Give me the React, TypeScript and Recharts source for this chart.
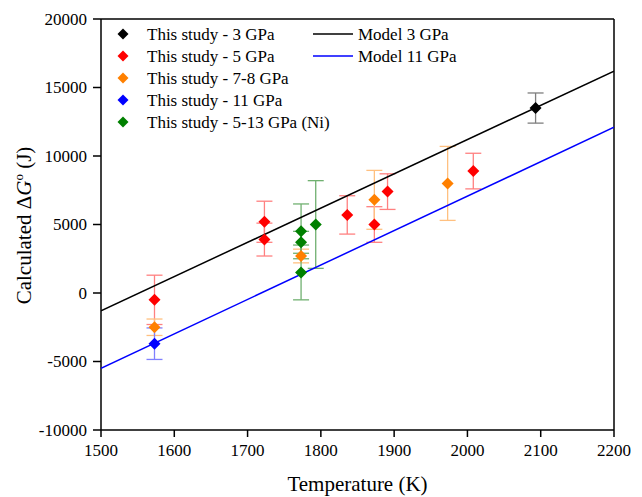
import { ScatterChart, Scatter, XAxis, YAxis, ErrorBar, ReferenceLine, Legend } from "recharts";

const FONT = "'Liberation Serif', 'Times New Roman', serif";

const xTicks = [1500, 1600, 1700, 1800, 1900, 2000, 2100, 2200];
const yTicks = [-10000, -5000, 0, 5000, 10000, 15000, 20000];

// measured points: t = temperature (K), g = calculated dG (J), err = +/- error
const study3 = [{ t: 2093, g: 13500, err: 1100 }];
const study5 = [
  { t: 1573, g: -500, err: 1800 },
  { t: 1723, g: 5200, err: 1500 },
  { t: 1723, g: 3900, err: 1200 },
  { t: 1836, g: 5700, err: 1400 },
  { t: 1873, g: 5000, err: 1300 },
  { t: 1891, g: 7400, err: 1300 },
  { t: 2008, g: 8900, err: 1300 },
];
const study78 = [
  { t: 1573, g: -2500, err: 600 },
  { t: 1773, g: 2700, err: 500 },
  { t: 1873, g: 6800, err: 2150 },
  { t: 1973, g: 8000, err: 2700 },
];
const study11 = [{ t: 1573, g: -3700, err: 1150 }];
const studyNi = [
  { t: 1773, g: 1500, err: 2000 },
  { t: 1773, g: 3700, err: 800 },
  { t: 1773, g: 4500, err: 2000 },
  { t: 1793, g: 5000, err: 3200 },
];

const model3 = [
  { t: 1500, g: -1300 },
  { t: 2200, g: 16200 },
];
const model11 = [
  { t: 1500, g: -5500 },
  { t: 2200, g: 12100 },
];

const pointSeries = [
  { name: "This study - 3 GPa", data: study3, color: "#000000", errColor: "#7f7f7f" },
  { name: "This study - 5 GPa", data: study5, color: "#ff0000", errColor: "#ff8080" },
  { name: "This study - 7-8 GPa", data: study78, color: "#ff8000", errColor: "#ffc080" },
  { name: "This study - 11 GPa", data: study11, color: "#0000ff", errColor: "#8080ff" },
  { name: "This study - 5-13 GPa (Ni)", data: studyNi, color: "#008000", errColor: "#70b070" },
];

const lineSeries = [
  { name: "Model 3 GPa", data: model3, color: "#000000" },
  { name: "Model 11 GPa", data: model11, color: "#0000ff" },
];

function Diamond(props: any) {
  const { cx, cy, fill } = props;
  const r = props.r ?? 6;
  if (cx == null || cy == null) return <g />;
  return (
    <polygon
      points={`${cx},${cy - r} ${cx + r},${cy} ${cx},${cy + r} ${cx - r},${cy}`}
      fill={fill}
    />
  );
}

const renderLegend = () => (
  <svg width={400} height={115} style={{ display: "block" }}>
    {pointSeries.map((s, i) => (
      <g key={s.name}>
        <Diamond cx={13} cy={12 + i * 22} r={5.5} fill={s.color} />
        <text x={37} y={18 + i * 22} fontSize={17} fontFamily={FONT} fill="#000">
          {s.name}
        </text>
      </g>
    ))}
    {lineSeries.map((s, i) => (
      <g key={s.name}>
        <line x1={203} x2={243} y1={12 + i * 22} y2={12 + i * 22} stroke={s.color} strokeWidth={1.5} />
        <text x={248} y={18 + i * 22} fontSize={17} fontFamily={FONT} fill="#000">
          {s.name}
        </text>
      </g>
    ))}
  </svg>
);

const YLabel = (props: any) => {
  const vb = props.viewBox || {};
  const x = 31;
  const y = (vb.y ?? 19) + (vb.height ?? 411) / 2 + 1;
  return (
    <text
      x={x}
      y={y}
      transform={`rotate(-90, ${x}, ${y})`}
      textAnchor="middle"
      fontSize={21}
      fontFamily={FONT}
      fill="#000"
    >
      Calculated Δ<tspan fontStyle="italic">G</tspan>
      <tspan dy={-8} fontSize={13}>o</tspan>
      <tspan dy={8}> (J)</tspan>
    </text>
  );
};

const XTick = (props: any) => {
  const { x, y, payload } = props;
  return (
    <text x={x} y={y} dy="0.71em" textAnchor="middle" fontSize={17} fontFamily={FONT} fill="#000">
      {payload.value}
    </text>
  );
};

const YTick = (props: any) => {
  const { x, y, payload } = props;
  return (
    <text x={x} y={y} dy="0.35em" textAnchor="end" fontSize={17} fontFamily={FONT} fill="#000">
      {payload.value}
    </text>
  );
};

export default function App() {
  return (
    <div style={{ position: "absolute", left: 0, top: 0, background: "#fff", fontFamily: FONT }}>
      <ScatterChart width={642} height={497} margin={{ top: 19, right: 28, bottom: 0, left: 0 }}>
        <XAxis
          type="number"
          dataKey="t"
          domain={[1500, 2200]}
          ticks={xTicks}
          allowDataOverflow
          tick={<XTick />}
          tickSize={7}
          tickMargin={7}
          axisLine={{ stroke: "#000", strokeWidth: 1.5 }}
          tickLine={{ stroke: "#000", strokeWidth: 1.5 }}
          height={67}
          label={{
            value: "Temperature (K)",
            position: "insideBottom",
            offset: 6,
            fontSize: 21,
            fontFamily: FONT,
            fill: "#000",
          }}
        />
        <YAxis
          type="number"
          dataKey="g"
          domain={[-10000, 20000]}
          ticks={yTicks}
          allowDataOverflow
          width={101}
          tick={<YTick />}
          tickSize={8}
          tickMargin={6}
          axisLine={{ stroke: "#000", strokeWidth: 1.5 }}
          tickLine={{ stroke: "#000", strokeWidth: 1.5 }}
          label={<YLabel />}
        />
        <ReferenceLine y={20000} stroke="#000" strokeWidth={1.5} />
        <ReferenceLine x={2200} stroke="#000" strokeWidth={1.5} />
        {lineSeries.map((s) => (
          <Scatter
            key={s.name}
            name={s.name}
            data={s.data}
            line={{ stroke: s.color, strokeWidth: 1.5 }}
            shape={() => <g />}
            isAnimationActive={false}
          />
        ))}
        {pointSeries.map((s) => (
          <Scatter
            key={s.name}
            name={s.name}
            data={s.data}
            fill={s.color}
            shape={<Diamond />}
            isAnimationActive={false}
          >
            <ErrorBar dataKey="err" direction="y" width={8} stroke={s.errColor} strokeWidth={1.3} />
          </Scatter>
        ))}
        <Legend
          layout="vertical"
          verticalAlign="middle"
          align="center"
          content={renderLegend}
          wrapperStyle={{ left: 110, top: 22, width: 400 }}
        />
      </ScatterChart>
    </div>
  );
}
